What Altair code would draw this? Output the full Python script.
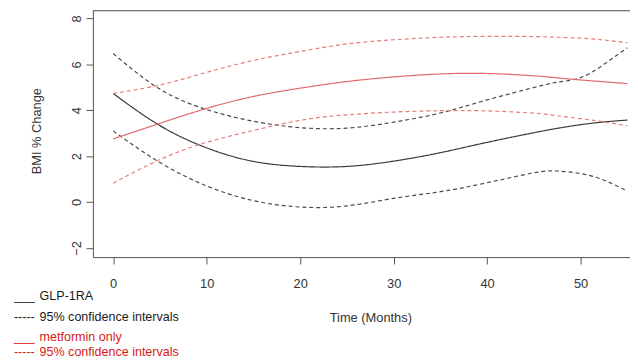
import altair as alt
import pandas as pd

# ---- data ----
months = [0, 5, 10, 15, 20, 25, 30, 35, 40, 45, 47.5, 50, 52.5, 55]
glp_est   = [4.73, 3.33, 2.36, 1.77, 1.55, 1.55, 1.78, 2.15, 2.60, 3.02, 3.21, 3.37, 3.49, 3.57]
glp_upper = [6.47, 4.92, 4.03, 3.52, 3.24, 3.22, 3.48, 3.88, 4.45, 4.99, 5.22, 5.42, 6.00, 6.72]
glp_lower = [3.10, 1.72, 0.70, 0.06, -0.22, -0.17, 0.16, 0.45, 0.84, 1.27, 1.35, 1.24, 0.95, 0.48]
met_est   = [2.75, 3.43, 4.08, 4.60, 4.96, 5.25, 5.45, 5.58, 5.60, 5.50, 5.41, 5.32, 5.24, 5.16]
met_upper = [4.73, 5.10, 5.65, 6.17, 6.56, 6.89, 7.07, 7.18, 7.22, 7.21, 7.18, 7.14, 7.06, 6.94]
met_lower = [0.82, 1.85, 2.60, 3.12, 3.56, 3.80, 3.92, 3.98, 3.97, 3.87, 3.76, 3.63, 3.49, 3.32]

series_names = ["GLP-1RA", "GLP-1RA upper", "GLP-1RA lower",
                "metformin only", "metformin upper", "metformin lower"]
series_values = [glp_est, glp_upper, glp_lower, met_est, met_upper, met_lower]
series_colors = ["#3a3a3a", "#4a4a4a", "#4a4a4a", "#e06a6a", "#e47c7c", "#e47c7c"]
series_dashes = [[1, 0], [4, 3], [4, 3], [1, 0], [4, 3], [4, 3]]

x_ticks = [0, 10, 20, 30, 40, 50]
y_ticks = [-2, 0, 2, 4, 6, 8]

legend_prefix = ["___", "-----", "___", "-----"]
legend_labels = ["GLP-1RA", "95% confidence intervals", "metformin only", " 95% confidence intervals"]
legend_colors = ["#1a1a1a", "#1a1a1a", "#d81818", "#d81818"]

# ---- layout ----
W, H = 544, 250
legend_rows_y = [289, 311, 331, 346]
FONT = "Liberation Sans"

rows = []
for name, vals in zip(series_names, series_values):
    for m, v in zip(months, vals):
        rows.append({"series": name, "month": m, "value": v})
df = pd.DataFrame(rows)

lines = alt.Chart(df).mark_line(strokeWidth=1.2, interpolate="natural").encode(
    x=alt.X("month:Q",
            scale=alt.Scale(domain=[-2.165, 55.28], nice=False, zero=False),
            axis=alt.Axis(values=x_ticks, tickSize=7, labelPadding=14, grid=False,
                          labelFont=FONT, labelFontSize=13, labelColor="#333",
                          domainColor="#555", tickColor="#555",
                          title="Time (Months)", titleFont=FONT, titleFontSize=13,
                          titleFontWeight="normal", titleColor="#333",
                          titleX=281, titleY=65, titleBaseline="alphabetic",
                          titleAlign="center")),
    y=alt.Y("value:Q",
            scale=alt.Scale(domain=[-2.4, 8.357], nice=False, zero=False),
            axis=alt.Axis(values=y_ticks, tickSize=7, labelPadding=6, grid=False,
                          labelAngle=270, labelAlign="center", labelBaseline="alphabetic",
                          labelFont=FONT, labelFontSize=13, labelColor="#333",
                          domainColor="#555", tickColor="#555",
                          title="BMI % Change", titleFont=FONT, titleFontSize=13,
                          titleFontWeight="normal", titleColor="#333",
                          titleAngle=270, titleX=-53, titleY=122,
                          titleBaseline="alphabetic", titleAlign="center")),
    color=alt.Color("series:N", scale=alt.Scale(domain=series_names, range=series_colors), legend=None),
    strokeDash=alt.StrokeDash("series:N", scale=alt.Scale(domain=series_names, range=series_dashes), legend=None),
)

top_border = alt.Chart(pd.DataFrame({"a": [0]})).mark_rule(color="#555", strokeWidth=1).encode(
    x=alt.value(0), x2=alt.value(W), y=alt.value(0.5)
)

layers = [lines, top_border]
one = pd.DataFrame({"a": [0]})
for pre, lab, col, yy in zip(legend_prefix, legend_labels, legend_colors, legend_rows_y):
    layers.append(alt.Chart(one).mark_text(font=FONT, fontSize=12.7, color=col, align="left",
                                           baseline="middle", text=pre).encode(
        x=alt.value(-80), y=alt.value(yy)))
    layers.append(alt.Chart(one).mark_text(font=FONT, fontSize=12.7, color=col, align="left",
                                           baseline="middle", text=lab).encode(
        x=alt.value(-54), y=alt.value(yy)))

chart = alt.layer(*layers).properties(
    width=W, height=H,
    autosize=alt.AutoSizeParams(type="none"),
    padding={"left": 86, "top": 0, "right": 0, "bottom": 104},
).configure_view(stroke=None).configure(background="white")

chart.save("out.html", embed_options={"renderer": "svg", "actions": False})
